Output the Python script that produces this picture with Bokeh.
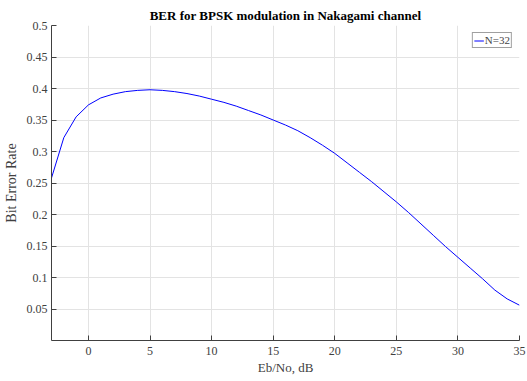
from bokeh.plotting import figure
from bokeh.models import FixedTicker, Range1d, Legend, LegendItem
from bokeh.embed import file_html
from bokeh.resources import INLINE

ebno_db = list(range(-3, 36))
ber_n32 = [0.258, 0.322, 0.355, 0.374, 0.385, 0.391, 0.395, 0.397, 0.398, 0.397,
           0.395, 0.392, 0.388, 0.383, 0.378, 0.372, 0.365, 0.358, 0.350, 0.342,
           0.333, 0.322, 0.310, 0.297, 0.282, 0.267, 0.252, 0.236, 0.220, 0.203,
           0.185, 0.167, 0.149, 0.132, 0.115, 0.098, 0.080, 0.066, 0.056]
x_ticks = [0, 5, 10, 15, 20, 25, 30, 35]
y_ticks = [0.05, 0.1, 0.15, 0.2, 0.25, 0.3, 0.35, 0.4, 0.45, 0.5]

SERIF = "Liberation Serif"

p = figure(width=527, height=381, output_backend="svg", toolbar_location=None,
           x_range=Range1d(-3, 35), y_range=Range1d(0, 0.5),
           min_border_left=51, min_border_right=8, min_border_top=25, min_border_bottom=41,
           title="BER for BPSK modulation in Nakagami channel")
p.title.align = "center"
p.title.text_font = SERIF
p.title.text_font_size = "13px"
p.title.text_font_style = "bold"
p.title.text_color = "#000000"
p.title.standoff = 6
p.outline_line_color = None

r = p.line(ebno_db, ber_n32, line_color="#0000ff", line_width=1)

for ax in (p.xaxis[0], p.yaxis[0]):
    ax.axis_line_color = "#404040"
    ax.major_tick_line_color = "#404040"
    ax.major_tick_in = 5
    ax.major_tick_out = 0
    ax.minor_tick_line_color = None
    ax.major_label_text_font = SERIF
    ax.major_label_text_font_size = "12px"
    ax.major_label_text_color = "#404040"
    ax.axis_label_text_font = SERIF
    ax.axis_label_text_font_style = "normal"
    ax.axis_label_text_color = "#404040"

p.xaxis.axis_label_text_font_size = "13px"
p.yaxis.axis_label_text_font_size = "14px"
p.xaxis.ticker = FixedTicker(ticks=x_ticks)
p.yaxis.ticker = FixedTicker(ticks=y_ticks)
p.xaxis.axis_label = "Eb/No, dB"
p.yaxis.axis_label = "Bit Error Rate"
p.xaxis.major_label_standoff = 6
p.yaxis.major_label_standoff = 4
p.xaxis.axis_label_standoff = 2
p.yaxis.axis_label_standoff = 5

p.xgrid.grid_line_color = "#e3e3e3"
p.ygrid.grid_line_color = "#e3e3e3"
p.xgrid.ticker = FixedTicker(ticks=x_ticks)
p.ygrid.ticker = FixedTicker(ticks=y_ticks)

legend = Legend(items=[LegendItem(label="N=32", renderers=[r])], location="top_right")
legend.label_text_font = SERIF
legend.label_text_font_size = "11px"
legend.label_standoff = 1
legend.glyph_width = 10
legend.glyph_height = 9
legend.padding = 1
legend.margin = 7
legend.spacing = 0
legend.border_line_color = "#404040"
legend.label_height = 9
p.add_layout(legend)

open("out.html", "w").write(file_html(p, INLINE))
